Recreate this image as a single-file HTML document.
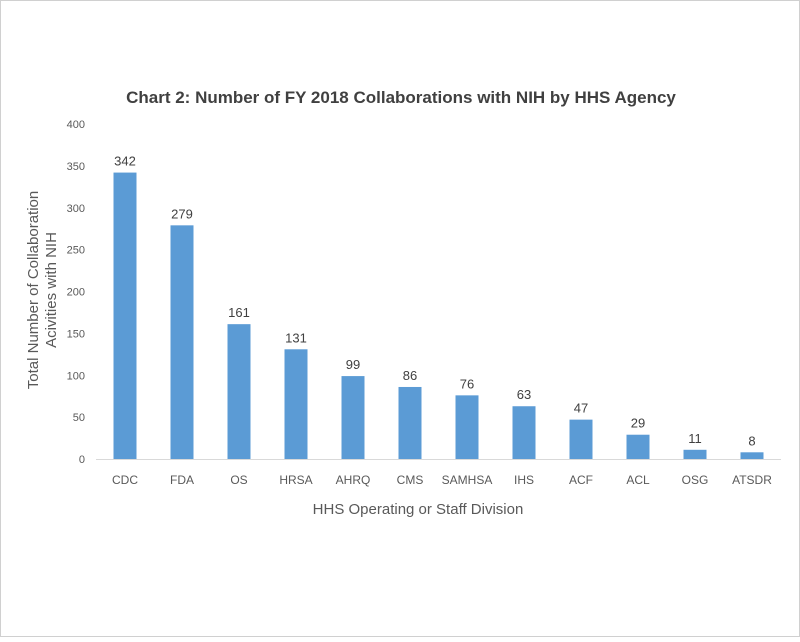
<!DOCTYPE html>
<html><head><meta charset="utf-8"><style>
html,body{margin:0;padding:0;background:#fff;}
body{width:800px;height:637px;overflow:hidden;font-family:"Liberation Sans",sans-serif;}
</style></head><body>
<svg width="800" height="637" xmlns="http://www.w3.org/2000/svg">
<rect x="0.5" y="0.5" width="799" height="636" fill="#fff" stroke="#d0d0d0"/>
<text x="401" y="103" text-anchor="middle" font-size="17" font-weight="bold" fill="#404040">Chart 2: Number of FY 2018 Collaborations  with NIH by HHS Agency</text>
<g transform="translate(38,290) rotate(-90)">
<text x="0" y="0" text-anchor="middle" font-size="15" fill="#595959">Total Number of Collaboration</text>
<text x="0" y="18" text-anchor="middle" font-size="15" fill="#595959">Acivities with NIH</text>
</g>
<text x="418" y="514" text-anchor="middle" font-size="15" fill="#595959">HHS Operating or Staff Division</text>
<g id="yticks"></g>
<line x1="96" y1="459.5" x2="781" y2="459.5" stroke="#d9d9d9"/>
<g id="bars"></g>
</svg>
<script>
const categories=["CDC","FDA","OS","HRSA","AHRQ","CMS","SAMHSA","IHS","ACF","ACL","OSG","ATSDR"];
const values=[342,279,161,131,99,86,76,63,47,29,11,8];
const yTicks=[0,50,100,150,200,250,300,350,400];
const NS="http://www.w3.org/2000/svg";
const y0=459,yTop=124,yMax=400,left=96.5,right=780.5;
const y=v=>y0-(v/yMax)*(y0-yTop);
const band=(right-left)/categories.length;
const x=i=>left+band*(i+0.5);
const yt=document.getElementById('yticks');
yTicks.forEach(t=>{const e=document.createElementNS(NS,'text');


e.setAttribute('x',85);e.setAttribute('y',y(t)+4);e.setAttribute('text-anchor','end');
e.setAttribute('font-size','11');e.setAttribute('fill','#595959');e.textContent=t;yt.appendChild(e);});
const g=document.getElementById('bars');
categories.forEach((c,i)=>{
const bw=23,v=values[i];
const r=document.createElementNS(NS,'rect');


r.setAttribute('x',x(i)-bw/2);r.setAttribute('y',y(v));r.setAttribute('width',bw);r.setAttribute('height',y0-y(v));r.setAttribute('fill','#5b9bd5');g.appendChild(r);
const l=document.createElementNS(NS,'text');


l.setAttribute('x',x(i));l.setAttribute('y',y(v)-7);l.setAttribute('text-anchor','middle');l.setAttribute('font-size','13');l.setAttribute('fill','#404040');l.textContent=v;g.appendChild(l);
const t=document.createElementNS(NS,'text');


t.setAttribute('x',x(i));t.setAttribute('y',484);t.setAttribute('text-anchor','middle');t.setAttribute('font-size','12');t.setAttribute('fill','#595959');t.textContent=c;g.appendChild(t);
});
</script>
</body></html>
